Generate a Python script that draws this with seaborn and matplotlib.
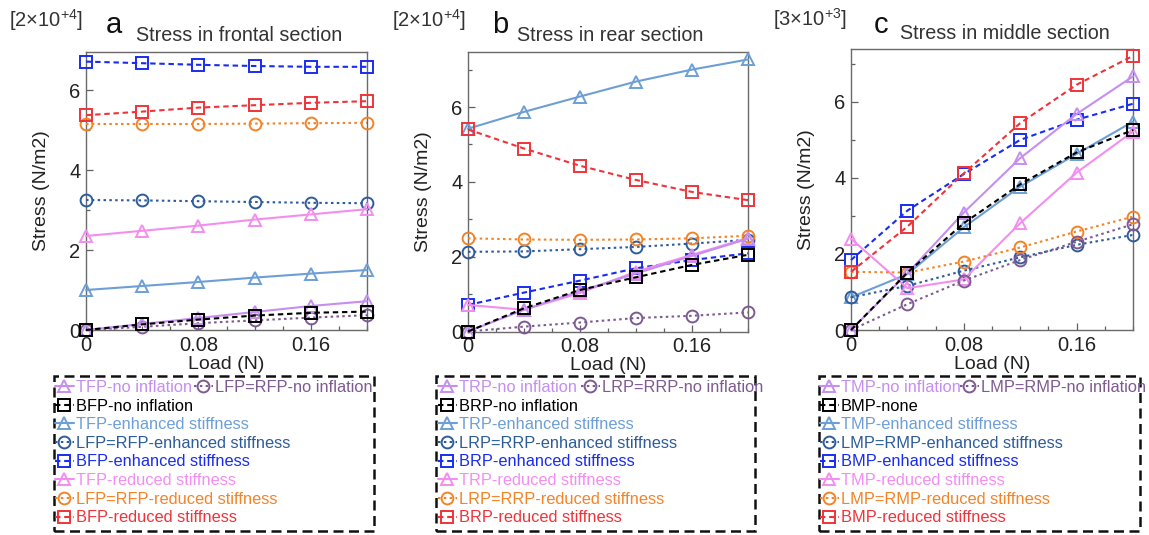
import numpy as np
import pandas as pd
import seaborn as sns
import matplotlib
matplotlib.use("Agg")
import matplotlib.pyplot as plt
from matplotlib.lines import Line2D
from matplotlib.patches import Rectangle
from matplotlib.ticker import MultipleLocator

# ---------------------------------------------------------------- data
load = [0.0, 0.04, 0.08, 0.12, 0.16, 0.20]

# frontal section, units of 2x10^4 N/m2
front_T_none = [0.00, 0.15, 0.30, 0.45, 0.60, 0.72]
front_LR_none = [0.00, 0.08, 0.17, 0.24, 0.31, 0.37]
front_B_none = [0.00, 0.14, 0.26, 0.36, 0.43, 0.46]
front_T_enh = [1.00, 1.10, 1.20, 1.31, 1.41, 1.50]
front_LR_enh = [3.25, 3.24, 3.22, 3.20, 3.18, 3.17]
front_B_enh = [6.71, 6.67, 6.63, 6.60, 6.58, 6.58]
front_T_red = [2.35, 2.48, 2.61, 2.76, 2.89, 3.02]
front_LR_red = [5.15, 5.15, 5.15, 5.16, 5.17, 5.18]
front_B_red = [5.37, 5.46, 5.56, 5.62, 5.68, 5.72]

# rear section, units of 2x10^4 N/m2
rear_T_none = [0.00, 0.58, 1.08, 1.55, 2.02, 2.48]
rear_LR_none = [0.00, 0.13, 0.24, 0.36, 0.42, 0.51]
rear_B_none = [0.00, 0.62, 1.11, 1.45, 1.78, 2.05]
rear_T_enh = [5.42, 5.87, 6.28, 6.68, 7.00, 7.27]
rear_LR_enh = [2.13, 2.14, 2.20, 2.26, 2.35, 2.45]
rear_B_enh = [0.71, 1.04, 1.36, 1.69, 1.91, 2.09]
rear_T_red = [0.71, 0.58, 1.03, 1.60, 2.05, 2.50]
rear_LR_red = [2.49, 2.46, 2.45, 2.46, 2.49, 2.56]
rear_B_red = [5.40, 4.89, 4.43, 4.05, 3.73, 3.51]

# middle section, units of 3x10^3 N/m2
mid_T_none = [0.00, 1.49, 3.09, 4.52, 5.68, 6.67]
mid_LR_none = [0.00, 0.68, 1.30, 1.84, 2.32, 2.78]
mid_B_none = [0.00, 1.51, 2.81, 3.83, 4.67, 5.26]
mid_T_enh = [0.86, 1.47, 2.70, 3.77, 4.63, 5.48]
mid_LR_enh = [0.86, 1.16, 1.56, 1.91, 2.24, 2.50]
mid_B_enh = [1.84, 3.14, 4.10, 5.00, 5.53, 5.95]
mid_T_red = [2.40, 1.10, 1.33, 2.81, 4.14, 5.22]
mid_LR_red = [1.53, 1.51, 1.80, 2.17, 2.59, 2.98]
mid_B_red = [1.53, 2.72, 4.12, 5.44, 6.45, 7.21]

panel_letters = ["a", "b", "c"]
panel_titles = ["Stress in frontal section", "Stress in rear section", "Stress in middle section"]
scale_labels = [r"[2×10$^{+4}$]", r"[2×10$^{+4}$]", r"[3×10$^{+3}$]"]
x_label = "Load (N)"
y_label = "Stress (N/m2)"
x_ticks = [0.0, 0.08, 0.16]
x_ticklabels = ["0", "0.08", "0.16"]
y_ticks = [0, 2, 4, 6]
y_ticklabels = ["0", "2", "4", "6"]

legend_a = ["TFP-no inflation", "LFP=RFP-no inflation", "BFP-no inflation",
            "TFP-enhanced stiffness", "LFP=RFP-enhanced stiffness", "BFP-enhanced stiffness",
            "TFP-reduced stiffness", "LFP=RFP-reduced stiffness", "BFP-reduced stiffness"]
legend_b = ["TRP-no inflation", "LRP=RRP-no inflation", "BRP-no inflation",
            "TRP-enhanced stiffness", "LRP=RRP-enhanced stiffness", "BRP-enhanced stiffness",
            "TRP-reduced stiffness", "LRP=RRP-reduced stiffness", "BRP-reduced stiffness"]
legend_c = ["TMP-no inflation", "LMP=RMP-no inflation", "BMP-none",
            "TMP-enhanced stiffness", "LMP=RMP-enhanced stiffness", "BMP-enhanced stiffness",
            "TMP-reduced stiffness", "LMP=RMP-reduced stiffness", "BMP-reduced stiffness"]

panels = [
    [front_T_none, front_LR_none, front_B_none, front_T_enh, front_LR_enh, front_B_enh,
     front_T_red, front_LR_red, front_B_red],
    [rear_T_none, rear_LR_none, rear_B_none, rear_T_enh, rear_LR_enh, rear_B_enh,
     rear_T_red, rear_LR_red, rear_B_red],
    [mid_T_none, mid_LR_none, mid_B_none, mid_T_enh, mid_LR_enh, mid_B_enh,
     mid_T_red, mid_LR_red, mid_B_red],
]
legends = [legend_a, legend_b, legend_c]

# ---------------------------------------------------------------- styles
colors = ["#c58ef0", "#7e5a92", "#000000",
          "#6d9fd6", "#2e5c9a", "#1a2cf0",
          "#f38ef0", "#f28428", "#f0333a"]
markers = ["^", "o", "s"] * 3
DOT = (0, (1.2, 1.6))
DASH = (0, (2.6, 1.8))
styles = ["-", DOT, DASH] * 3
draw_order = [3, 4, 5, 6, 7, 8, 1, 0, 2]

sns.set_theme(style="ticks")
plt.rcParams["font.family"] = ["Liberation Sans", "DejaVu Sans"]
plt.rcParams["mathtext.fontset"] = "custom"
plt.rcParams["mathtext.rm"] = "Liberation Sans"
plt.rcParams["mathtext.it"] = "Liberation Sans:italic"
plt.rcParams["axes.unicode_minus"] = False

W, H = 1149, 535
fig = plt.figure(figsize=(W / 100, H / 100), dpi=100)


def fx(px):
    return px / W


def fy(py):
    return 1 - py / H


# axes boxes in pixels: left, right, top, bottom
boxes = [(86, 367, 52, 330), (468, 748, 52, 331.5), (851, 1133, 49, 330)]
ylims = [6.95, 7.47, 7.39]
letter_pos = [(106, 33), (492, 33), (874, 33)]
title_pos = [(136, 41), (517, 41), (900, 39)]
scale_pos = [(9, 27), (392, 27), (773, 26)]
legend_box = [(54, 374, 376, 531), (436, 755, 376, 531), (819, 1140, 376, 531)]
handle_x = [(55, 194), (438, 581), (820, 960)]
legend_top = 380

for k in range(3):
    l, r, t, b = boxes[k]
    ax = fig.add_axes([fx(l), fy(b), fx(r) - fx(l), fy(t) - fy(b)])
    series = panels[k]
    for i in draw_order:
        sns.lineplot(x=load, y=series[i], ax=ax, color=colors[i], linestyle=styles[i],
                     linewidth=1.5, marker=markers[i], markersize=8.5,
                     markerfacecolor="none", markeredgecolor=colors[i],
                     markeredgewidth=1.4, errorbar=None, clip_on=False, zorder=3)
    ax.set_xlim(0, 0.2)
    ax.set_ylim(0, ylims[k])
    ax.set_xticks(x_ticks)
    ax.set_xticklabels(x_ticklabels)
    ax.set_yticks(y_ticks)
    ax.set_yticklabels(y_ticklabels)
    ax.xaxis.set_minor_locator(MultipleLocator(0.02))
    ax.yaxis.set_minor_locator(MultipleLocator(1))
    ax.tick_params(which="both", direction="in", colors="#606060", labelcolor="#222222",
                   width=0.9)
    ax.tick_params(which="major", length=5, labelsize=14.5, pad=4)
    ax.tick_params(which="minor", length=3)
    for s in ax.spines.values():
        s.set_color("#6a6a6a")
        s.set_linewidth(1.0)
        s.set_visible(True)
    ax.set_xlabel(x_label, fontsize=14, color="#222222", labelpad=1)
    ax.set_ylabel(y_label, fontsize=14, color="#222222", labelpad=14)

    # panel letter, title and scale factor
    fig.text(fx(letter_pos[k][0]), fy(letter_pos[k][1]), panel_letters[k], fontsize=21,
             color="#111111", ha="left", va="baseline")
    fig.text(fx(title_pos[k][0]), fy(title_pos[k][1]), panel_titles[k], fontsize=14.2,
             color="#333333", ha="left", va="baseline")
    fig.text(fx(scale_pos[k][0]), fy(scale_pos[k][1]), scale_labels[k], fontsize=14.5,
             color="#333333", ha="left", va="baseline")

    # legend: dashed frame, first row holds two entries
    bl, br, bt, bb = legend_box[k]
    fig.add_artist(Rectangle((fx(bl), fy(bb)), fx(br) - fx(bl), fy(bt) - fy(bb),
                             transform=fig.transFigure, fill=False, edgecolor="#111111",
                             linewidth=1.8, linestyle=(0, (4, 2.2))))
    labels = legends[k]

    def handle(i):
        return Line2D([], [], color=colors[i], linestyle=styles[i], linewidth=1.5,
                      marker=markers[i], markersize=8.5, markerfacecolor="none",
                      markeredgecolor=colors[i], markeredgewidth=1.4)

    main_idx = [0, 2, 3, 4, 5, 6, 7, 8]
    leg1 = fig.legend([handle(i) for i in main_idx], [labels[i] for i in main_idx],
                      loc="upper left", bbox_to_anchor=(fx(handle_x[k][0]), fy(legend_top)),
                      frameon=False, fontsize=11.8, borderpad=0, borderaxespad=0,
                      labelspacing=0.22, handlelength=1.15, handletextpad=0.12,
                      labelcolor=[colors[i] for i in main_idx])
    leg2 = fig.legend([handle(1)], [labels[1]],
                      loc="upper left", bbox_to_anchor=(fx(handle_x[k][1]), fy(legend_top)),
                      frameon=False, fontsize=11.8, borderpad=0, borderaxespad=0,
                      handlelength=1.15, handletextpad=0.12, labelcolor=[colors[1]])

fig.savefig("out.png", dpi=100, facecolor="white")
